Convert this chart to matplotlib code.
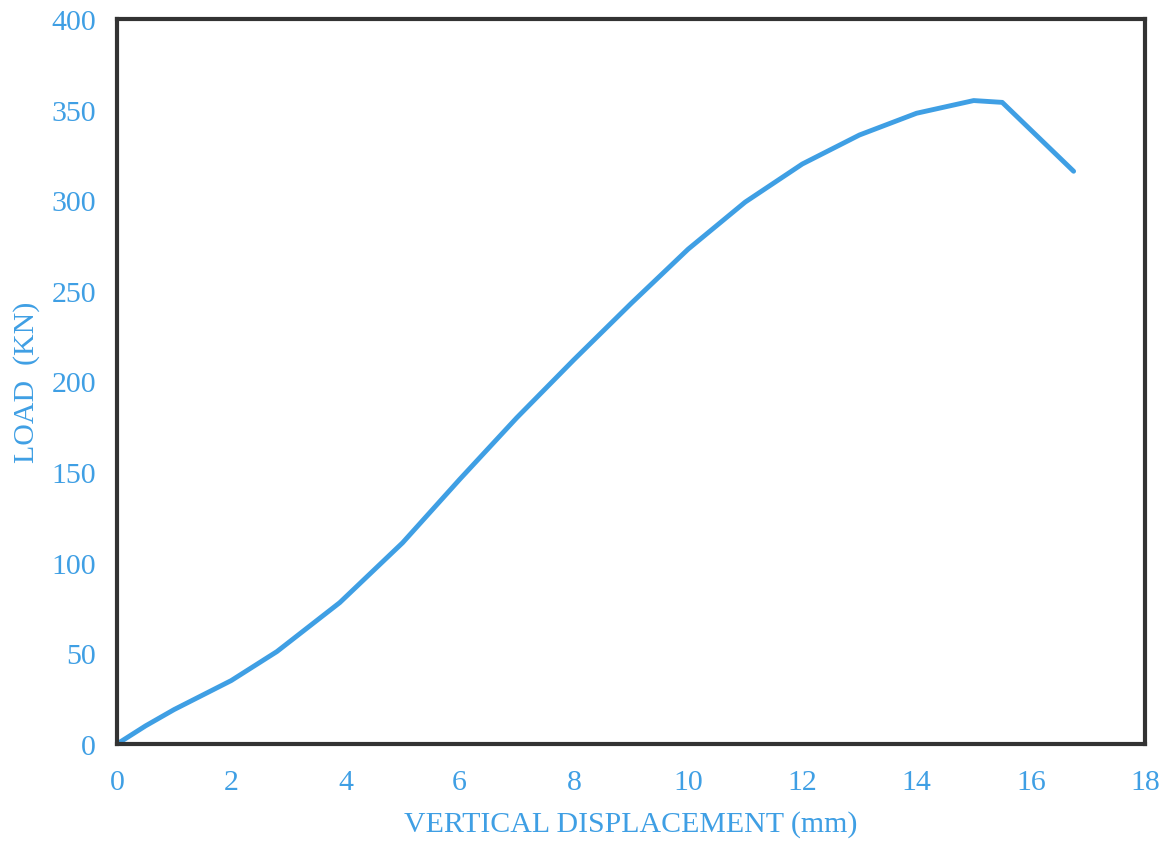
import matplotlib.pyplot as plt

plt.rcParams['font.family'] = ['Liberation Serif', 'DejaVu Serif']

# displacement (mm) and load (kN)
displacement = [0, 0.5, 1, 2, 2.8, 3.9, 4.6, 5, 6, 7, 8, 9, 10, 11, 12, 13, 14, 15, 15.5, 16.75]
load = [0, 10, 19, 35, 51, 78, 99, 111, 146, 180, 212, 243, 273, 299, 320, 336, 348, 355, 354, 316]

blue = '#3f9fe4'

fig = plt.figure(figsize=(11.68, 8.45), dpi=100)
ax = fig.add_axes([117 / 1168, 100 / 845, 1028 / 1168, 725 / 845])

ax.plot(displacement, load, color=blue, linewidth=3.5, solid_capstyle='round', solid_joinstyle='round')

ax.set_xlim(0, 18)
ax.set_ylim(0, 400)
ax.set_xticks(range(0, 19, 2))
ax.set_yticks(range(0, 401, 50))
ax.tick_params(length=0, labelsize=21.5, labelcolor=blue)
ax.tick_params(axis='x', pad=18)
ax.tick_params(axis='y', pad=15)

for s in ax.spines.values():
    s.set_linewidth(3)
    s.set_color('#333333')

ax.set_xlabel('VERTICAL DISPLACEMENT (mm)', fontsize=21.5, color=blue, labelpad=11)
ax.set_ylabel('LOAD  (KN)', fontsize=21.5, color=blue, labelpad=8)

fig.savefig('out.png', dpi=100)
